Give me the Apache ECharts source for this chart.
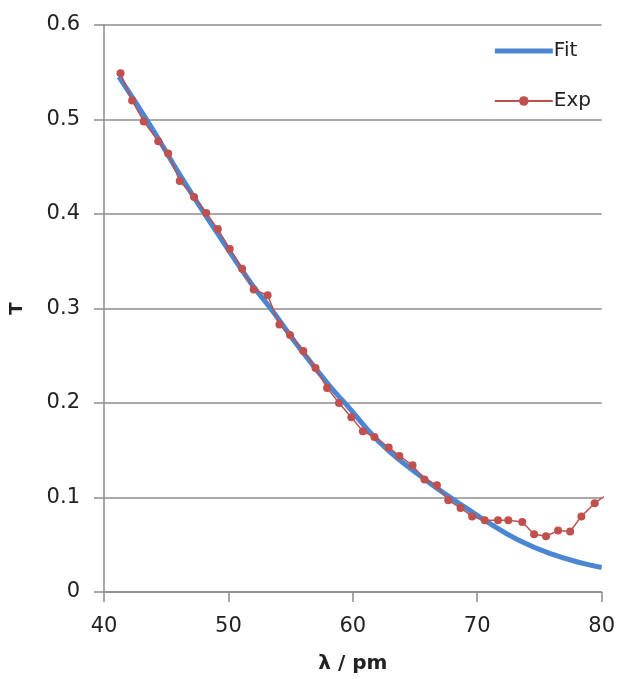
<!DOCTYPE html>
<html>
<head>
<meta charset="utf-8">
<script src="https://cdn.jsdelivr.net/npm/echarts@6/dist/echarts.min.js"></script>
<style>
  html, body { margin: 0; padding: 0; background: #fff; }
  #chart { width: 618px; height: 679px; }
</style>
</head>
<body>
<div id="chart"></div>
<script>
// fitted curve
const FIT_X = [41.2, 43.8, 46.4, 49.1, 51.8, 53.4, 55.5, 58.2, 59.5, 62.1, 64.8, 67.5, 69.1, 70.7, 73.3, 76.0, 78.6, 80.0]
const FIT_Y = [0.545, 0.492, 0.435, 0.380, 0.327, 0.300, 0.262, 0.217, 0.198, 0.159, 0.129, 0.103, 0.089, 0.075, 0.055, 0.040, 0.030, 0.026]

// measured points (last one sits just past the right edge)
const EXP_X = [41.33, 42.26, 43.19, 44.36, 45.16, 46.09, 47.24, 48.22, 49.15, 50.11,
    51.10, 52.03, 53.15, 54.10, 54.95, 56.02, 57.00, 57.93, 58.89, 59.88,
    60.81, 61.74, 62.88, 63.74, 64.80, 65.76, 66.76, 67.67, 68.66, 69.59,
    70.60, 71.67, 72.50, 73.62, 74.57, 75.53, 76.50, 77.47, 78.37, 79.44, 80.2]
const EXP_Y = [0.549, 0.520, 0.498, 0.477, 0.464, 0.435, 0.418, 0.401, 0.384, 0.363,
    0.342, 0.320, 0.314, 0.283, 0.272, 0.255, 0.237, 0.216, 0.200, 0.185,
    0.170, 0.164, 0.153, 0.144, 0.134, 0.119, 0.113, 0.097, 0.089, 0.080,
    0.076, 0.076, 0.076, 0.074, 0.061, 0.059, 0.065, 0.064, 0.080, 0.094, 0.101]

const X_MIN = 40, X_MAX = 80, X_STEP = 10
const Y_MIN = 0, Y_MAX = 0.6, Y_STEP = 0.1

const FONT = 'DejaVu Sans'
const GRAY = '#8c8c8c'
const BLUE = '#4a86d2'
const RED = '#c0504d'

function zip(xs, ys) {
    let out = []
    for (let i = 0; i < xs.length; i++) {
        out.push([xs[i], ys[i]])
    }
    return out
}

let chart = echarts.init(document.getElementById('chart'))

chart.setOption({
    animation: false,
    backgroundColor: '#fff',
    textStyle: { fontFamily: FONT },
    grid: { left: 103, right: 14, top: 25, bottom: 87, containLabel: false },
    legend: {
        right: 22,
        top: 36,
        orient: 'vertical',
        itemWidth: 58,
        itemHeight: 12,
        itemGap: 30,
        textStyle: { fontFamily: FONT, fontSize: 20, color: '#222', padding: [0, 0, 0, -4] },
        data: [
            { name: 'Fit', itemStyle: { opacity: 0 }, lineStyle: { width: 5, color: BLUE } },
            { name: 'Exp' }
        ]
    },
    xAxis: {
        type: 'value',
        min: X_MIN, max: X_MAX, interval: X_STEP,
        name: 'λ / pm',
        nameLocation: 'middle',
        nameGap: 62,
        nameTextStyle: { fontFamily: FONT, fontSize: 20, fontWeight: 'bold', color: '#222' },
        axisLine: { show: true, lineStyle: { color: GRAY, width: 1.5 } },
        axisTick: { show: true, length: 10, lineStyle: { color: GRAY, width: 1.5 } },
        axisLabel: { margin: 24, fontSize: 21, color: '#222', fontFamily: FONT },
        splitLine: { show: false }
    },
    yAxis: {
        type: 'value',
        min: Y_MIN, max: Y_MAX, interval: Y_STEP,
        name: 'T',
        nameLocation: 'middle',
        nameRotate: 90,
        nameGap: 78,
        nameTextStyle: { fontFamily: FONT, fontSize: 18, fontWeight: 'bold', color: '#222' },
        axisLine: { show: true, lineStyle: { color: GRAY, width: 1.5 } },
        axisTick: { show: true, length: 10, lineStyle: { color: GRAY, width: 1.5 } },
        axisLabel: {
            margin: 24, fontSize: 21, color: '#222', fontFamily: FONT,
            formatter: v => String(Math.round(v * 10) / 10)
        },
        splitLine: { show: true, lineStyle: { color: GRAY, width: 1.5 } }
    },
    series: [
        {
            name: 'Fit',
            type: 'line',
            smooth: true,
            showSymbol: false,
            symbol: 'none',
            z: 2,
            lineStyle: { color: BLUE, width: 5 },
            itemStyle: { color: BLUE },
            data: zip(FIT_X, FIT_Y)
        },
        {
            name: 'Exp',
            type: 'line',
            symbol: 'circle',
            symbolSize: 8,
            clip: true,
            z: 3,
            lineStyle: { color: RED, width: 1.5 },
            itemStyle: { color: RED },
            data: zip(EXP_X, EXP_Y)
        }
    ]
})
</script>
</body>
</html>
